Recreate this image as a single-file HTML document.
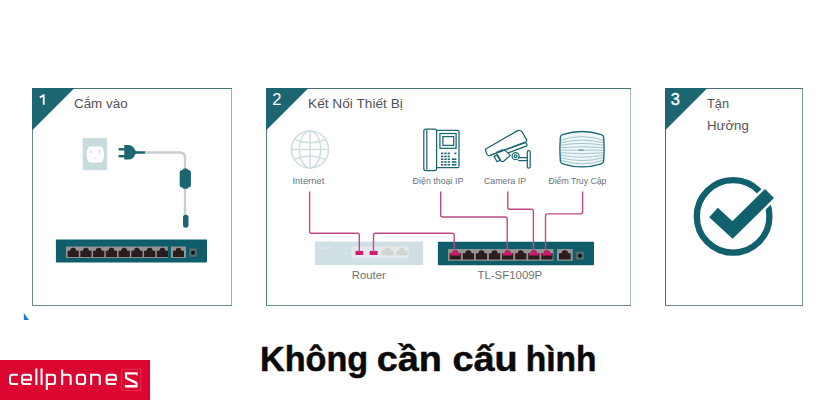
<!DOCTYPE html>
<html><head><meta charset="utf-8">
<style>
html,body{margin:0;padding:0;background:#fff;width:840px;height:400px;overflow:hidden}
svg{display:block}
text{font-family:"Liberation Sans",sans-serif}
.num{font-size:16.5px;fill:#fff}
.ttl{font-size:13.7px;fill:#535158}
.lbl{font-size:9.6px;fill:#68737a}
.lbl2{font-size:11px;fill:#6a7174}
.hd{font-size:34.5px;font-weight:bold;fill:#0a0a0a;stroke:#0a0a0a;stroke-width:0.5px}
</style></head><body>
<svg width="840" height="400" viewBox="0 0 840 400">
<line x1="32.0" y1="88.5" x2="232.0" y2="88.5" stroke="#4b727c" stroke-width="1"/>
<line x1="32.0" y1="305.5" x2="232.0" y2="305.5" stroke="#6a8b94" stroke-width="1"/>
<line x1="32.5" y1="89" x2="32.5" y2="305" stroke="#668892" stroke-width="1"/>
<line x1="231.5" y1="89" x2="231.5" y2="305" stroke="#98b2b9" stroke-width="1"/>
<polygon points="32.0,88 74.5,88 32.0,130.5" fill="#1c6671"/>
<line x1="266.0" y1="88.5" x2="631.0" y2="88.5" stroke="#4b727c" stroke-width="1"/>
<line x1="266.0" y1="305.5" x2="631.0" y2="305.5" stroke="#6a8b94" stroke-width="1"/>
<line x1="266.5" y1="89" x2="266.5" y2="305" stroke="#52767f" stroke-width="1"/>
<line x1="630.5" y1="89" x2="630.5" y2="305" stroke="#a0b8be" stroke-width="1"/>
<polygon points="266.0,88 308.5,88 266.0,130.5" fill="#1c6671"/>
<line x1="665.0" y1="88.5" x2="803.0" y2="88.5" stroke="#4b727c" stroke-width="1"/>
<line x1="665.0" y1="305.5" x2="803.0" y2="305.5" stroke="#6a8b94" stroke-width="1"/>
<line x1="665.5" y1="89" x2="665.5" y2="305" stroke="#476c76" stroke-width="1"/>
<line x1="802.5" y1="89" x2="802.5" y2="305" stroke="#7a99a1" stroke-width="1"/>
<polygon points="665.0,88 707.5,88 665.0,130.5" fill="#1c6671"/>
<path d="M39.8,97.6 L43.6,95.2 M43.75,94.3 V104.8" fill="none" stroke="#fff" stroke-width="1.8"/>
<text x="272.3" y="105.2" class="num">2</text>
<text x="670.7" y="105.2" class="num" stroke="#fff" stroke-width="0.35">3</text>
<text x="74" y="108" class="ttl" textLength="53.6" lengthAdjust="spacingAndGlyphs">Cắm vào</text>
<text x="308" y="108" class="ttl" textLength="94.8" lengthAdjust="spacingAndGlyphs">Kết Nối Thiết Bị</text>
<text x="707" y="107.8" class="ttl" textLength="22" lengthAdjust="spacingAndGlyphs">Tận</text>
<text x="707" y="129.8" class="ttl" textLength="41.8" lengthAdjust="spacingAndGlyphs">Hưởng</text>
<rect x="82.7" y="138.2" width="24.5" height="32" fill="#c9dadf"/>
<path d="M89.6,146.6 H101 C104.9,148.6 105.1,160.4 101,162.4 H89.6 C85.5,160.4 85.7,148.6 89.6,146.6 Z" fill="#fff"/>
<rect x="90.4" y="149.5" width="1.1" height="4.3" fill="#c9dadf"/>
<rect x="98.9" y="149.5" width="1.1" height="4.3" fill="#c9dadf"/>
<circle cx="95.2" cy="158" r="0.8" fill="#c9dadf"/>
<rect x="118.5" y="148.1" width="6.5" height="2.4" fill="#1c6671"/>
<rect x="118.5" y="155" width="6.5" height="2.4" fill="#1c6671"/>
<path d="M124.3,144.9 H128.6 Q133.4,145 135.2,150.6 L137,151.2 H145.2 V153.8 H137 L135.2,154.2 Q133.4,159.6 128.6,159.6 H124.3 Z" fill="#1c6671"/>
<path d="M145,152.5 H180 Q185,152.5 185,157.5 V227" fill="none" stroke="#c8cdcf" stroke-width="2.4"/>
<rect x="179.7" y="170" width="11.2" height="17.5" rx="2.5" fill="#1c6671"/>
<rect x="182.5" y="168.4" width="5.6" height="20.4" rx="1.5" fill="#1c6671"/>
<rect x="183" y="214.8" width="5.5" height="13" rx="2.75" fill="#1c6671"/>
<rect x="55.9" y="239.5" width="151.1" height="22.899999999999977" rx="0.8" fill="#0f5d6b"/><line x1="66" y1="243.5" x2="147" y2="243.5" stroke="#1a6876" stroke-width="0.6"/><rect x="66" y="246.5" width="101.80000000000001" height="11.399999999999977" fill="#959494"/><path d="M67.60,256.90 L67.60,250.70 L70.00,250.70 Q70.60,247.70 72.60,247.70 L73.80,247.70 Q75.80,247.70 76.40,250.70 L78.80,250.70 L78.80,256.90 Z" fill="#2b1c1d"/><path d="M80.35,256.90 L80.35,250.70 L82.75,250.70 Q83.35,247.70 85.35,247.70 L86.55,247.70 Q88.55,247.70 89.15,250.70 L91.55,250.70 L91.55,256.90 Z" fill="#2b1c1d"/><path d="M93.10,256.90 L93.10,250.70 L95.50,250.70 Q96.10,247.70 98.10,247.70 L99.30,247.70 Q101.30,247.70 101.90,250.70 L104.30,250.70 L104.30,256.90 Z" fill="#2b1c1d"/><path d="M105.85,256.90 L105.85,250.70 L108.25,250.70 Q108.85,247.70 110.85,247.70 L112.05,247.70 Q114.05,247.70 114.65,250.70 L117.05,250.70 L117.05,256.90 Z" fill="#2b1c1d"/><path d="M118.60,256.90 L118.60,250.70 L121.00,250.70 Q121.60,247.70 123.60,247.70 L124.80,247.70 Q126.80,247.70 127.40,250.70 L129.80,250.70 L129.80,256.90 Z" fill="#2b1c1d"/><path d="M131.35,256.90 L131.35,250.70 L133.75,250.70 Q134.35,247.70 136.35,247.70 L137.55,247.70 Q139.55,247.70 140.15,250.70 L142.55,250.70 L142.55,256.90 Z" fill="#2b1c1d"/><path d="M144.10,256.90 L144.10,250.70 L146.50,250.70 Q147.10,247.70 149.10,247.70 L150.30,247.70 Q152.30,247.70 152.90,250.70 L155.30,250.70 L155.30,256.90 Z" fill="#2b1c1d"/><path d="M156.85,256.90 L156.85,250.70 L159.25,250.70 Q159.85,247.70 161.85,247.70 L163.05,247.70 Q165.05,247.70 165.65,250.70 L168.05,250.70 L168.05,256.90 Z" fill="#2b1c1d"/><rect x="171" y="246.5" width="15" height="11.399999999999977" fill="#959494"/><path d="M173.00,256.90 L173.00,250.70 L175.40,250.70 Q176.00,247.70 178.00,247.70 L179.00,247.70 Q181.00,247.70 181.60,250.70 L184.00,250.70 L184.00,256.90 Z" fill="#2b1c1d"/><rect x="189.4" y="248.4" width="7.299999999999983" height="8.499999999999972" fill="#59686b"/><circle cx="193.05" cy="252.64999999999998" r="2" fill="#111"/>
<rect x="315" y="241.5" width="108.2" height="23.5" fill="#d0dfe3"/>
<rect x="351.4" y="246.4" width="57.3" height="11.7" fill="#e3e9eb"/>
<rect x="355.5" y="250.9" width="7.6" height="4.1" fill="#d3196d"/>
<rect x="369.7" y="250.9" width="7.9" height="4.1" fill="#d3196d"/>
<path d="M381.80,255.30 L381.80,250.70 L384.20,250.70 Q384.80,247.70 386.80,247.70 L388.50,247.70 Q390.50,247.70 391.10,250.70 L393.50,250.70 L393.50,255.30 Z" fill="#d3d3d3"/>
<path d="M396.30,255.30 L396.30,250.70 L398.70,250.70 Q399.30,247.70 401.30,247.70 L402.30,247.70 Q404.30,247.70 404.90,250.70 L407.30,250.70 L407.30,255.30 Z" fill="#d3d3d3"/>
<circle cx="346" cy="253" r="0.9" fill="#e9f5c9"/>
<text x="320" y="249" font-size="4" fill="#eef4f5" font-family="Liberation Sans">tp-link</text>
<rect x="437.9" y="241.8" width="156.10000000000002" height="23.399999999999977" rx="0.8" fill="#0f5d6b"/><line x1="448" y1="245.8" x2="534" y2="245.8" stroke="#1a6876" stroke-width="0.6"/><rect x="448" y="249" width="105.39999999999998" height="11.800000000000011" fill="#959494"/><path d="M449.60,259.40 L449.60,253.20 L452.00,253.20 Q452.60,250.20 454.60,250.20 L455.90,250.20 Q457.90,250.20 458.50,253.20 L460.90,253.20 L460.90,259.40 Z" fill="#2b1c1d"/><path d="M450.20,255.60 Q450.20,252.80 452.40,252.60 Q453.60,250.00 455.25,250.00 Q456.90,250.00 458.10,252.60 Q460.30,252.80 460.30,255.60 Z" fill="#d3196d"/><path d="M462.70,259.40 L462.70,253.20 L465.10,253.20 Q465.70,250.20 467.70,250.20 L469.00,250.20 Q471.00,250.20 471.60,253.20 L474.00,253.20 L474.00,259.40 Z" fill="#2b1c1d"/><path d="M475.80,259.40 L475.80,253.20 L478.20,253.20 Q478.80,250.20 480.80,250.20 L482.10,250.20 Q484.10,250.20 484.70,253.20 L487.10,253.20 L487.10,259.40 Z" fill="#2b1c1d"/><path d="M488.90,259.40 L488.90,253.20 L491.30,253.20 Q491.90,250.20 493.90,250.20 L495.20,250.20 Q497.20,250.20 497.80,253.20 L500.20,253.20 L500.20,259.40 Z" fill="#2b1c1d"/><path d="M502.00,259.40 L502.00,253.20 L504.40,253.20 Q505.00,250.20 507.00,250.20 L508.30,250.20 Q510.30,250.20 510.90,253.20 L513.30,253.20 L513.30,259.40 Z" fill="#2b1c1d"/><path d="M502.60,255.60 Q502.60,252.80 504.80,252.60 Q506.00,250.00 507.65,250.00 Q509.30,250.00 510.50,252.60 Q512.70,252.80 512.70,255.60 Z" fill="#d3196d"/><path d="M515.10,259.40 L515.10,253.20 L517.50,253.20 Q518.10,250.20 520.10,250.20 L521.40,250.20 Q523.40,250.20 524.00,253.20 L526.40,253.20 L526.40,259.40 Z" fill="#2b1c1d"/><path d="M528.20,259.40 L528.20,253.20 L530.60,253.20 Q531.20,250.20 533.20,250.20 L534.50,250.20 Q536.50,250.20 537.10,253.20 L539.50,253.20 L539.50,259.40 Z" fill="#2b1c1d"/><path d="M528.80,255.60 Q528.80,252.80 531.00,252.60 Q532.20,250.00 533.85,250.00 Q535.50,250.00 536.70,252.60 Q538.90,252.80 538.90,255.60 Z" fill="#d3196d"/><path d="M541.30,259.40 L541.30,253.20 L543.70,253.20 Q544.30,250.20 546.30,250.20 L547.60,250.20 Q549.60,250.20 550.20,253.20 L552.60,253.20 L552.60,259.40 Z" fill="#2b1c1d"/><path d="M541.90,255.60 Q541.90,252.80 544.10,252.60 Q545.30,250.00 546.95,250.00 Q548.60,250.00 549.80,252.60 Q552.00,252.80 552.00,255.60 Z" fill="#d3196d"/><rect x="557" y="249" width="15.700000000000045" height="11.800000000000011" fill="#959494"/><path d="M559.00,259.40 L559.00,253.20 L561.40,253.20 Q562.00,250.20 564.00,250.20 L565.70,250.20 Q567.70,250.20 568.30,253.20 L570.70,253.20 L570.70,259.40 Z" fill="#2b1c1d"/><rect x="575.8" y="251.6" width="8.200000000000045" height="8.099999999999994" fill="#59686b"/><circle cx="579.9" cy="255.64999999999998" r="2" fill="#111"/>
<path d="M309.6,191.6 L309.60,231.20 Q309.6,233.2 311.60,233.20 L357.30,233.20 Q359.3,233.2 359.30,235.20 L359.3,252" fill="none" stroke="#bf4a86" stroke-width="1.4"/>
<path d="M373.5,252 L373.50,235.20 Q373.5,233.2 375.50,233.20 L452.20,233.20 Q454.2,233.2 454.20,235.20 L454.2,251" fill="none" stroke="#bf4a86" stroke-width="1.4"/>
<path d="M440.7,191.4 L440.70,215.00 Q440.7,217 442.70,217.00 L505.20,217.00 Q507.2,217 507.20,219.00 L507.2,251" fill="none" stroke="#bf4a86" stroke-width="1.4"/>
<path d="M507.8,191.4 L507.80,207.20 Q507.8,209.2 509.80,209.20 L531.40,209.20 Q533.4,209.2 533.40,211.20 L533.4,251" fill="none" stroke="#bf4a86" stroke-width="1.4"/>
<path d="M582.6,191.4 L582.60,211.90 Q582.6,213.9 580.60,213.90 L547.50,213.90 Q545.5,213.9 545.50,215.90 L545.5,251" fill="none" stroke="#bf4a86" stroke-width="1.4"/>
<g fill="none" stroke="#d0dde0" stroke-width="1.5"><circle cx="310" cy="149.4" r="18.5"/><ellipse cx="310" cy="149.4" rx="10.6" ry="18.5"/><line x1="310" y1="130.9" x2="310" y2="167.9"/><line x1="291.5" y1="149.4" x2="328.5" y2="149.4"/><path d="M294,139.2 Q310,146.4 326,139.2"/><path d="M294,159.6 Q310,152.4 326,159.6"/></g>
<g fill="none" stroke="#1c6671" stroke-width="1.25"><rect x="423.8" y="129" width="12.8" height="41.6" rx="2"/><line x1="426.8" y1="130" x2="426.8" y2="169.6"/><path d="M436.6,130.4 H457.8 Q459,130.4 459,131.6 V166.4 Q459,167.6 457.8,167.6 H436.6"/><rect x="439.9" y="133.5" width="16.2" height="14.8"/><rect x="442.9" y="136.6" width="10.8" height="8.8"/></g>
<rect x="441.0" y="152.6" width="2.3" height="1.6" fill="#1c6671"/>
<rect x="444.3" y="152.6" width="2.3" height="1.6" fill="#1c6671"/>
<rect x="447.6" y="152.6" width="2.3" height="1.6" fill="#1c6671"/>
<rect x="441.0" y="155.6" width="2.3" height="1.6" fill="#1c6671"/>
<rect x="444.3" y="155.6" width="2.3" height="1.6" fill="#1c6671"/>
<rect x="447.6" y="155.6" width="2.3" height="1.6" fill="#1c6671"/>
<rect x="441.0" y="158.4" width="2.3" height="1.6" fill="#1c6671"/>
<rect x="444.3" y="158.4" width="2.3" height="1.6" fill="#1c6671"/>
<rect x="447.6" y="158.4" width="2.3" height="1.6" fill="#1c6671"/>
<rect x="441.0" y="161.2" width="2.3" height="1.6" fill="#1c6671"/>
<rect x="444.3" y="161.2" width="2.3" height="1.6" fill="#1c6671"/>
<rect x="447.6" y="161.2" width="2.3" height="1.6" fill="#1c6671"/>
<rect x="441.0" y="164.0" width="2.3" height="1.6" fill="#1c6671"/>
<rect x="444.3" y="164.0" width="2.3" height="1.6" fill="#1c6671"/>
<rect x="447.6" y="164.0" width="2.3" height="1.6" fill="#1c6671"/>
<rect x="451.8" y="158.4" width="4.6" height="1.6" fill="#1c6671"/>
<rect x="451.8" y="161.2" width="4.6" height="1.6" fill="#1c6671"/>
<rect x="451.8" y="164.0" width="4.6" height="1.6" fill="#1c6671"/>
<rect x="454.4" y="152.6" width="2" height="1.6" fill="#1c6671"/>
<g fill="none" stroke="#1c6671" stroke-width="1.25" stroke-linejoin="round" stroke-linecap="round"><path d="M485.3,149.3 L517.2,130.9 Q520.3,129.6 522.3,132.2 L526.5,139.6 Q527.2,141 525.8,141.8 L490.3,155.3 Q487.6,156.2 486.6,153.6 Z"/><path d="M491,155 L525.3,142.6 Q527.6,143.6 526.8,145.9 L508.2,152.9"/><path d="M496.6,152.2 L501.6,150 Q504.6,149.3 506.6,151.6 L510.2,155.4 L503.6,161.2 Q502,162.3 500.6,160.8 L497.6,156.4"/><path d="M494.1,156.6 L497.4,154.6 L500.4,159.9 L497.1,161.8 Z"/><circle cx="515.6" cy="156.2" r="3.5"/><circle cx="515.6" cy="156.2" r="1.4"/><path d="M519,157.6 H527.2 M518.6,160.6 H527.2"/><rect x="527.3" y="150.6" width="2.9" height="17.6" rx="1.4"/></g>
<path d="M562.6,134.6 C575,130.6 589,130.6 601.4,134.6 Q603.6,135.3 603.7,137.6 C604.3,145.5 604.3,153 603.7,160.8 Q603.6,163.1 601.4,163.8 C589,167.8 575,167.8 562.6,163.8 Q560.4,163.1 560.3,160.8 C559.7,153 559.7,145.5 560.3,137.6 Q560.4,135.3 562.6,134.6 Z" fill="#eef6f8"/>
<path d="M561,140.17 Q582,133.09 603,140.17" fill="none" stroke="#9cc0c8" stroke-width="0.9"/>
<path d="M561,142.72 Q582,137.44 603,142.72" fill="none" stroke="#9cc0c8" stroke-width="0.9"/>
<path d="M561,145.19 Q582,141.65 603,145.19" fill="none" stroke="#9cc0c8" stroke-width="0.9"/>
<path d="M561,147.65 Q582,145.85 603,147.65" fill="none" stroke="#9cc0c8" stroke-width="0.9"/>
<path d="M561,150.20 Q582,150.20 603,150.20" fill="none" stroke="#9cc0c8" stroke-width="0.9"/>
<path d="M561,152.84 Q582,154.70 603,152.84" fill="none" stroke="#9cc0c8" stroke-width="0.9"/>
<path d="M561,155.39 Q582,159.05 603,155.39" fill="none" stroke="#9cc0c8" stroke-width="0.9"/>
<path d="M561,157.85 Q582,163.25 603,157.85" fill="none" stroke="#9cc0c8" stroke-width="0.9"/>
<path d="M561,160.31 Q582,167.45 603,160.31" fill="none" stroke="#9cc0c8" stroke-width="0.9"/>
<path d="M562.6,134.6 C575,130.6 589,130.6 601.4,134.6 Q603.6,135.3 603.7,137.6 C604.3,145.5 604.3,153 603.7,160.8 Q603.6,163.1 601.4,163.8 C589,167.8 575,167.8 562.6,163.8 Q560.4,163.1 560.3,160.8 C559.7,153 559.7,145.5 560.3,137.6 Q560.4,135.3 562.6,134.6 Z" fill="none" stroke="#1c6671" stroke-width="1.35"/>
<rect x="578.5" y="149.4" width="5" height="1.6" fill="#7a9ea6"/>
<text x="292.4" y="183.6" class="lbl" textLength="32" lengthAdjust="spacingAndGlyphs">Internet</text>
<text x="412.6" y="183.6" class="lbl" textLength="50.8" lengthAdjust="spacingAndGlyphs">Điện thoại IP</text>
<text x="484" y="183.6" class="lbl" textLength="42" lengthAdjust="spacingAndGlyphs">Camera IP</text>
<text x="548.4" y="183.6" class="lbl" textLength="58" lengthAdjust="spacingAndGlyphs">Điểm Truy Cập</text>
<text x="351.8" y="279" class="lbl2" textLength="34" lengthAdjust="spacingAndGlyphs">Router</text>
<text x="477.5" y="279" class="lbl2" textLength="64.7" lengthAdjust="spacingAndGlyphs">TL-SF1009P</text>
<circle cx="733.1" cy="216.4" r="36.3" fill="none" stroke="#11606d" stroke-width="6.3"/>
<path d="M713.5,212.5 L732.5,230 L769.5,193.5" fill="none" stroke="#fff" stroke-width="17.5" stroke-linecap="butt" stroke-linejoin="miter"/>
<path d="M713.5,212.5 L732.5,230 L769.5,193.5" fill="none" stroke="#11606d" stroke-width="12.8" stroke-linecap="butt" stroke-linejoin="miter"/>
<polygon points="23.8,313 29,320 23.8,320" fill="#1a7fd1"/>
<text x="260.0" y="370.8" class="hd" textLength="108.2" lengthAdjust="spacingAndGlyphs">Không</text>
<text x="376.7" y="370.8" class="hd" textLength="65.1" lengthAdjust="spacingAndGlyphs">cần</text>
<text x="452.4" y="370.8" class="hd" textLength="65.1" lengthAdjust="spacingAndGlyphs">cấu</text>
<text x="525.8" y="370.8" class="hd" textLength="70.8" lengthAdjust="spacingAndGlyphs">hình</text>
<rect x="0" y="360" width="150" height="40" fill="#dc0731"/>
<path d="M17.95,374.7 H12.450000000000001 Q10.05,374.7 10.05,377.09999999999997 V381.65000000000003 Q10.05,384.05 12.450000000000001,384.05 H17.95 M31.05,384.05 H24.45 Q22.05,384.05 22.05,381.65000000000003 V377.09999999999997 Q22.05,374.7 24.45,374.7 H28.650000000000002 Q31.05,374.7 31.05,377.09999999999997 V379.7 H22.05 M36.35,368.5 V385 M41.55,368.5 V385 M46.85,389.9 V374.7 H52.65 Q55.05,374.7 55.05,377.09999999999997 V381.65000000000003 Q55.05,384.05 52.65,384.05 H46.85 M62.15,369.4 V385 M62.15,374.7 H68.25 Q70.65,374.7 70.65,377.09999999999997 V385 M79.25,374.7 H82.64999999999999 Q85.05,374.7 85.05,377.09999999999997 V381.65000000000003 Q85.05,384.05 82.64999999999999,384.05 H79.25 Q76.85,384.05 76.85,381.65000000000003 V377.09999999999997 Q76.85,374.7 79.25,374.7 Z M91.15,385 V374.7 H97.35 Q99.75,374.7 99.75,377.09999999999997 V385 M115.95,384.05 H109.05000000000001 Q106.65,384.05 106.65,381.65000000000003 V377.09999999999997 Q106.65,374.7 109.05000000000001,374.7 H113.55 Q115.95,374.7 115.95,377.09999999999997 V379.7 H106.65" fill="none" stroke="#fff" stroke-width="2.05"/>
<rect x="121.7" y="369.2" width="19.2" height="21.3" fill="none" stroke="#e23a55" stroke-width="0.8"/>
<polygon points="124.9,372.2 137.6,372.2 137.6,375.9 135.7,374.6 127.1,374.6 127.1,377.3 136.4,381.6 137.6,382.9 137.6,387.4 124.9,387.4 124.9,385.1 135.4,385.1 135.4,383.7 126.4,379.6 124.9,378.3" fill="#fff"/>
</svg>
</body></html>
